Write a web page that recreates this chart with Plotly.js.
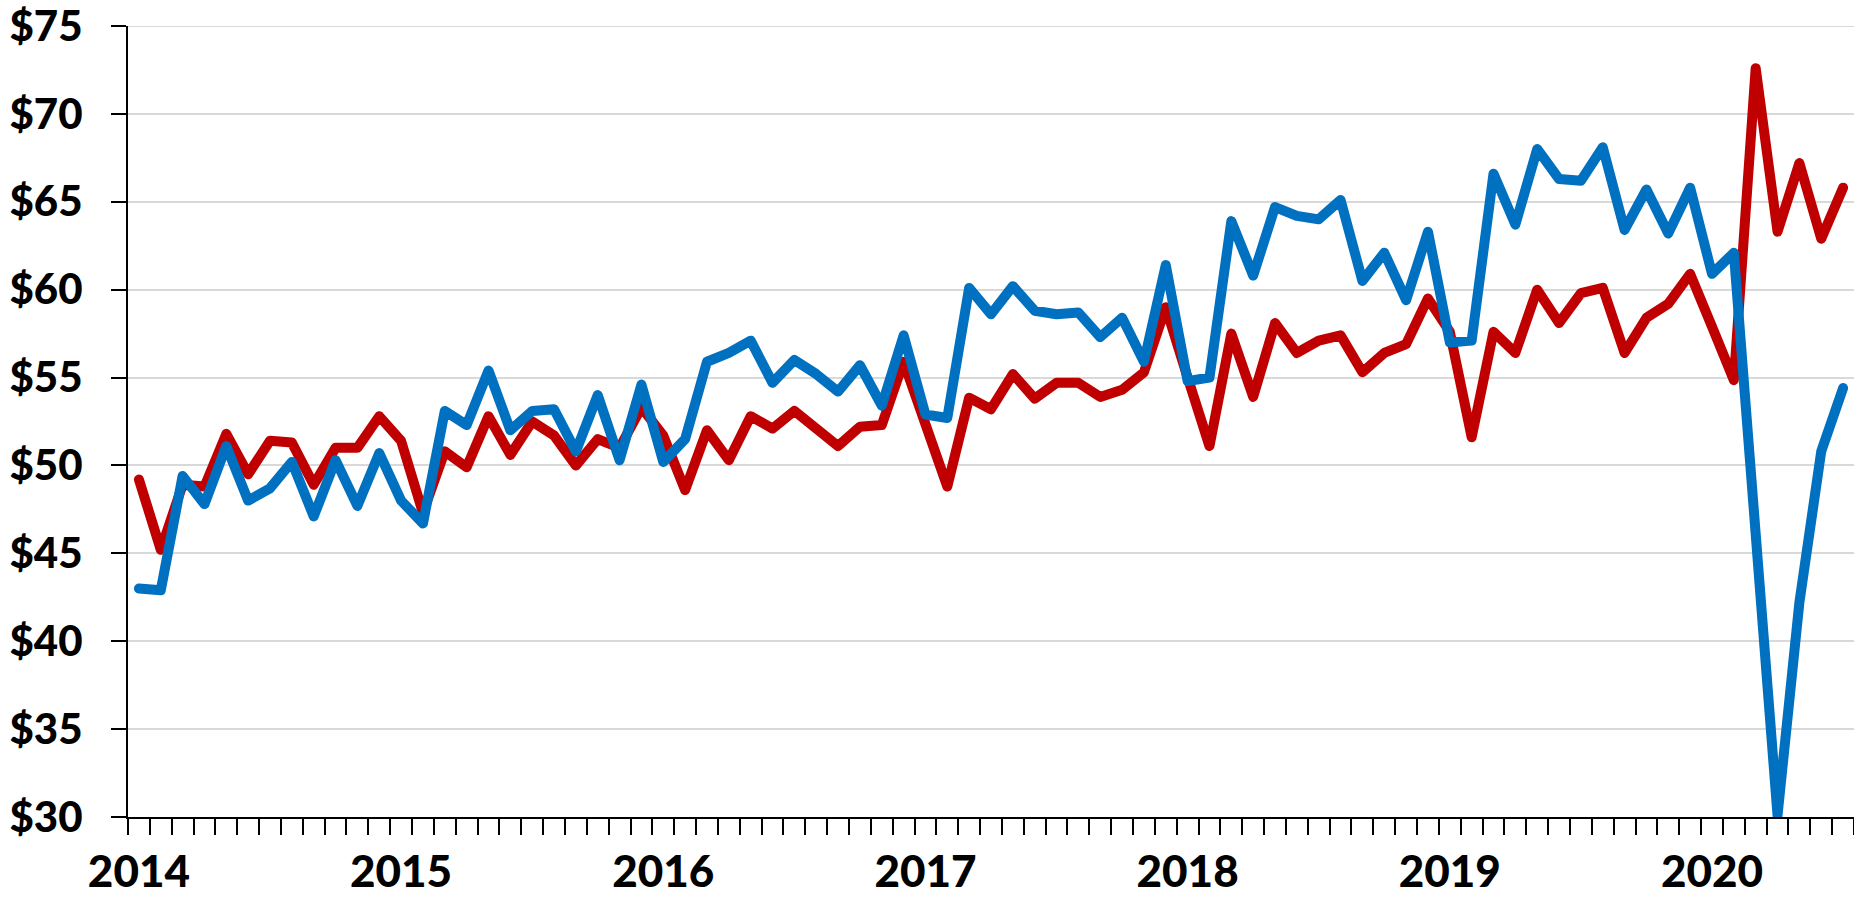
<!DOCTYPE html>
<html>
<head>
<meta charset="utf-8">
<script src="https://cdn.plot.ly/plotly-3.0.1.min.js"></script>
<style>
html,body{margin:0;padding:0;background:#ffffff;}
#chart{width:1854px;height:900px;}
#chart .js-line{stroke-linejoin:round !important;stroke-linecap:round !important;}
</style>
</head>
<body>
<div id="chart"></div>
<script>
// ---- data ----
const startYear = 2014;
const yearLabels = ['2014', '2015', '2016', '2017', '2018', '2019', '2020'];

const redValues = [
  49.2, 45.2, 48.9, 48.8, 51.8, 49.5, 51.4, 51.3, 48.9, 51.0, 51.0, 52.8,
  51.4, 47.3, 50.8, 49.9, 52.8, 50.6, 52.5, 51.7, 50.0, 51.5, 51.0, 53.3,
  51.7, 48.6, 52.0, 50.3, 52.8, 52.1, 53.1, 52.1, 51.1, 52.2, 52.3, 55.9,
  52.3, 48.8, 53.85, 53.2, 55.2, 53.8, 54.7, 54.7, 53.9, 54.3, 55.3, 59.0,
  55.0, 51.1, 57.5, 53.9, 58.1, 56.4, 57.1, 57.4, 55.3, 56.4, 56.9, 59.5,
  57.6, 51.6, 57.6, 56.4, 60.0, 58.1, 59.8, 60.1, 56.4, 58.4, 59.2, 60.9,
  57.9, 54.85, 72.6, 63.3, 67.2, 62.9, 65.8
];

const blueValues = [
  43.0, 42.9, 49.4, 47.8, 51.1, 48.0, 48.7, 50.2, 47.1, 50.3, 47.7, 50.7,
  48.0, 46.7, 53.1, 52.3, 55.4, 52.0, 53.1, 53.2, 50.8, 54.0, 50.3, 54.6,
  50.2, 51.5, 55.9, 56.4, 57.1, 54.7, 56.0, 55.2, 54.2, 55.7, 53.4, 57.4,
  52.9, 52.7, 60.1, 58.6, 60.2, 58.8, 58.6, 58.7, 57.3, 58.4, 55.9, 61.4,
  54.8, 55.0, 63.9, 60.8, 64.7, 64.2, 64.0, 65.1, 60.5, 62.1, 59.4, 63.3,
  57.0, 57.1, 66.6, 63.7, 68.0, 66.3, 66.2, 68.1, 63.4, 65.7, 63.2, 65.8,
  60.9, 62.1, 46.1, 30.1, 42.2, 50.8, 54.4
];

const yMin = 30, yMax = 75, yStep = 5;

// month categories (Jan 2014 ... Jul 2020)
const months = redValues.map((_, i) =>
  (startYear + Math.floor(i / 12)) + '-' + String(i % 12 + 1).padStart(2, '0'));
const monthIndex = months.map((_, i) => i);
const yearTickPos = months.map((m, i) => m.endsWith('-01') ? i : null).filter(v => v !== null);

// ---- chart ----
const FONT = 'Lato, "DejaVu Sans", sans-serif';

const traces = [
  {
    type: 'scatter', mode: 'lines', name: 'Red series',
    x: monthIndex, y: redValues, customdata: months,
    line: {color: '#C00000', width: 10, shape: 'linear'},
    hovertemplate: '%{customdata}: $%{y}<extra></extra>'
  },
  {
    type: 'scatter', mode: 'lines', name: 'Blue series',
    x: monthIndex, y: blueValues, customdata: months,
    line: {color: '#0070C0', width: 10, shape: 'linear'},
    hovertemplate: '%{customdata}: $%{y}<extra></extra>'
  }
];

const layout = {
  width: 1854, height: 900,
  margin: {l: 128, r: 0, t: 26, b: 83, pad: 0},
  paper_bgcolor: '#ffffff', plot_bgcolor: '#ffffff',
  showlegend: false,
  font: {family: FONT, color: '#000000'},
  xaxis: {
    type: 'linear',
    range: [-0.5, months.length - 0.5],
    tickmode: 'array', tickvals: yearTickPos, ticktext: yearLabels,
    ticks: '',
    tickfont: {family: FONT, size: 44, color: '#000000', weight: 900},
    ticklabelstandoff: 15,
    ticklabeloverflow: 'allow',
    showgrid: false, zeroline: false,
    showline: true, linecolor: '#000000', linewidth: 2,
    minor: {
      tickmode: 'linear', tick0: -0.5, dtick: 1,
      ticks: 'outside', ticklen: 16, tickwidth: 2, tickcolor: '#000000',
      showgrid: false
    },
    fixedrange: true
  },
  yaxis: {
    range: [yMin, yMax],
    tickmode: 'linear', tick0: yMin, dtick: yStep,
    tickprefix: '$',
    ticks: 'outside', ticklen: 15, tickwidth: 2, tickcolor: '#000000',
    tickfont: {family: FONT, size: 42, color: '#000000', weight: 900},
    ticklabelstandoff: 20,
    ticklabeloverflow: 'allow',
    showline: true, linecolor: '#000000', linewidth: 2,
    showgrid: true, gridcolor: '#d9d9d9', gridwidth: 2,
    zeroline: false,
    fixedrange: true
  },
  shapes: [{
    type: 'line', xref: 'paper', yref: 'y', x0: 0, x1: 1, y0: yMax, y1: yMax,
    line: {color: '#d9d9d9', width: 2}, layer: 'below'
  }]
};

Plotly.newPlot('chart', traces, layout, {displayModeBar: false, staticPlot: true});
</script>
</body>
</html>
